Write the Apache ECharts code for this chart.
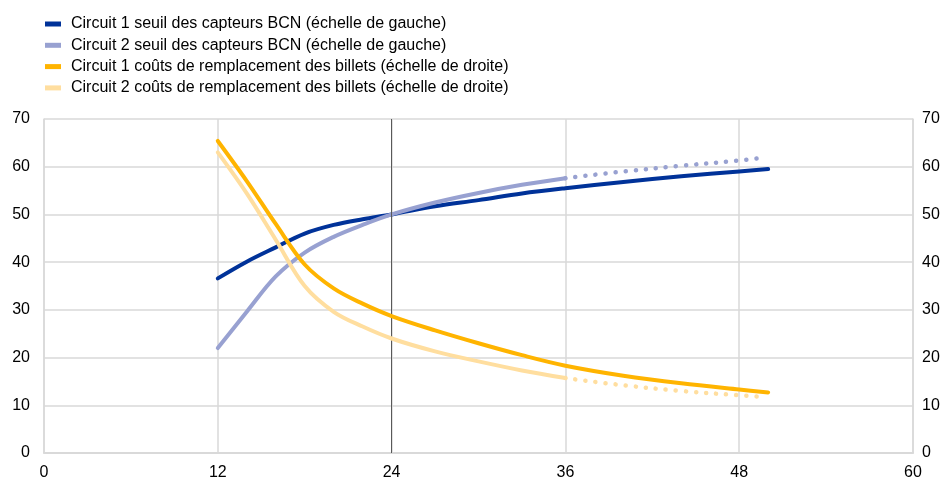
<!DOCTYPE html>
<html>
<head>
<meta charset="utf-8">
<script src="https://cdn.jsdelivr.net/npm/echarts@6/dist/echarts.min.js"></script>
<style>
html,body{margin:0;padding:0;background:#fff;}
#chart{width:941px;height:479px;}
</style>
</head>
<body>
<div id="chart"></div>
<script>
// Months of circulation (x) and values per series
var xTicks = [0, 12, 24, 36, 48, 60];
var yTicks = [0, 10, 20, 30, 40, 50, 60, 70];

var names = [
  'Circuit 1 seuil des capteurs BCN (échelle de gauche)',
  'Circuit 2 seuil des capteurs BCN (échelle de gauche)',
  'Circuit 1 coûts de remplacement des billets (échelle de droite)',
  'Circuit 2 coûts de remplacement des billets (échelle de droite)'
];

// Circuit 1 sensor threshold
var c1SensorX = [12, 14, 16, 18, 20, 22, 24, 27, 30, 33, 36, 40, 44, 48, 50];
var c1SensorY = [36.6, 40.1, 43.1, 46, 47.8, 49, 50, 51.7, 53, 54.4, 55.5, 56.8, 58, 59, 59.5];

// Circuit 2 sensor threshold (solid part, then projected part)
var c2SensorX = [12, 14, 16, 18, 20, 22, 24, 27, 30, 33, 36];
var c2SensorY = [22, 29.6, 37, 42, 45.3, 47.8, 50, 52.5, 54.5, 56.2, 57.6];
var c2SensorProjX = [36, 40, 44, 48, 49.4];
var c2SensorProjY = [57.6, 59, 60.2, 61.3, 61.8];

// Circuit 1 replacement costs
var c1CostX = [12, 14, 16, 18, 20, 22, 24, 27, 30, 33, 36, 40, 44, 48, 50];
var c1CostY = [65.4, 57, 48, 39.5, 34.5, 31.3, 28.7, 25.7, 23, 20.5, 18.3, 16.2, 14.6, 13.3, 12.7];

// Circuit 2 replacement costs (solid part, then projected part)
var c2CostX = [12, 14, 16, 18, 20, 22, 24, 27, 30, 33, 36];
var c2CostY = [63, 54.4, 44.7, 35, 29.6, 26.5, 24, 21.3, 19.2, 17.3, 15.7];
var c2CostProjX = [36, 40, 44, 48, 49.4];
var c2CostProjY = [15.7, 14.2, 13, 12.1, 11.8];

var colors = ['#003299', '#98A1D1', '#FFB400', '#FFDE9F'];

function pairs(xs, ys) {
  return xs.map(function (x, i) { return [x, ys[i]]; });
}

function solid(name, xs, ys, color, yIdx, z) {
  return {
    name: name, type: 'line', yAxisIndex: yIdx, data: pairs(xs, ys),
    smooth: 0.35, showSymbol: false, symbol: 'none', z: z,
    lineStyle: { color: color, width: 4, cap: 'round', join: 'round' },
    itemStyle: { color: color }, emphasis: { disabled: true }
  };
}

function dotted(name, xs, ys, color, yIdx, z) {
  return {
    name: name, type: 'line', yAxisIndex: yIdx, data: pairs(xs, ys),
    smooth: 0.35, showSymbol: false, symbol: 'none', z: z,
    lineStyle: { color: color, width: 4.5, type: [0.1, 10], cap: 'round' },
    itemStyle: { color: color }, emphasis: { disabled: true }
  };
}

var font = 'Liberation Sans, Arial, sans-serif';
var labelStyle = { color: '#000', fontSize: 16, fontFamily: font };

var series = [
  solid(names[0], c1SensorX, c1SensorY, colors[0], 0, 3),
  solid(names[1], c2SensorX, c2SensorY, colors[1], 0, 4),
  dotted('c2SensorProj', c2SensorProjX, c2SensorProjY, colors[1], 0, 4),
  solid(names[3], c2CostX, c2CostY, colors[3], 1, 5),
  dotted('c2CostProj', c2CostProjX, c2CostProjY, colors[3], 1, 5),
  solid(names[2], c1CostX, c1CostY, colors[2], 1, 6)
];

// Reference vertical line at 24 months
series[0].markLine = {
  silent: true, symbol: 'none', label: { show: false },
  lineStyle: { color: '#595959', width: 1, type: 'solid' },
  data: [{ xAxis: 24 }]
};

var chart = echarts.init(document.getElementById('chart'), null, { renderer: 'canvas' });
chart.setOption({
  animation: false,
  color: colors,
  legend: {
    data: names.map(function (n, i) { return { name: n, itemStyle: { color: colors[i] } }; }),
    orient: 'vertical', left: 45, top: 16, padding: 0,
    icon: 'rect', itemWidth: 16, itemHeight: 5, itemGap: 5.3,
    textStyle: { color: '#000', fontSize: 16, fontFamily: font, lineHeight: 16, padding: [0, 0, 0, 5] },
    selectedMode: false
  },
  grid: { left: 44, right: 28, top: 119, bottom: 26, containLabel: false, outerBoundsMode: 'none' },
  xAxis: {
    type: 'value', min: xTicks[0], max: xTicks[xTicks.length - 1], interval: 12,
    axisLine: { show: true, lineStyle: { color: '#d9d9d9', width: 2 } },
    axisTick: { show: false },
    axisLabel: Object.assign({ margin: 12 }, labelStyle),
    splitLine: { show: true, lineStyle: { color: '#d9d9d9', width: 1.5 } }
  },
  yAxis: [
    {
      type: 'value', min: yTicks[0], max: yTicks[yTicks.length - 1], interval: 10,
      axisLine: { show: true, lineStyle: { color: '#d9d9d9', width: 1.5 } },
      axisTick: { show: false },
      axisLabel: Object.assign({ margin: 14 }, labelStyle),
      splitLine: { show: true, lineStyle: { color: '#d9d9d9', width: 1.5 } }
    },
    {
      type: 'value', min: yTicks[0], max: yTicks[yTicks.length - 1], interval: 10,
      position: 'right',
      axisLine: { show: true, lineStyle: { color: '#d9d9d9', width: 1.5 } },
      axisTick: { show: false },
      axisLabel: Object.assign({ margin: 9 }, labelStyle),
      splitLine: { show: false }
    }
  ],
  series: series
});
</script>
</body>
</html>
